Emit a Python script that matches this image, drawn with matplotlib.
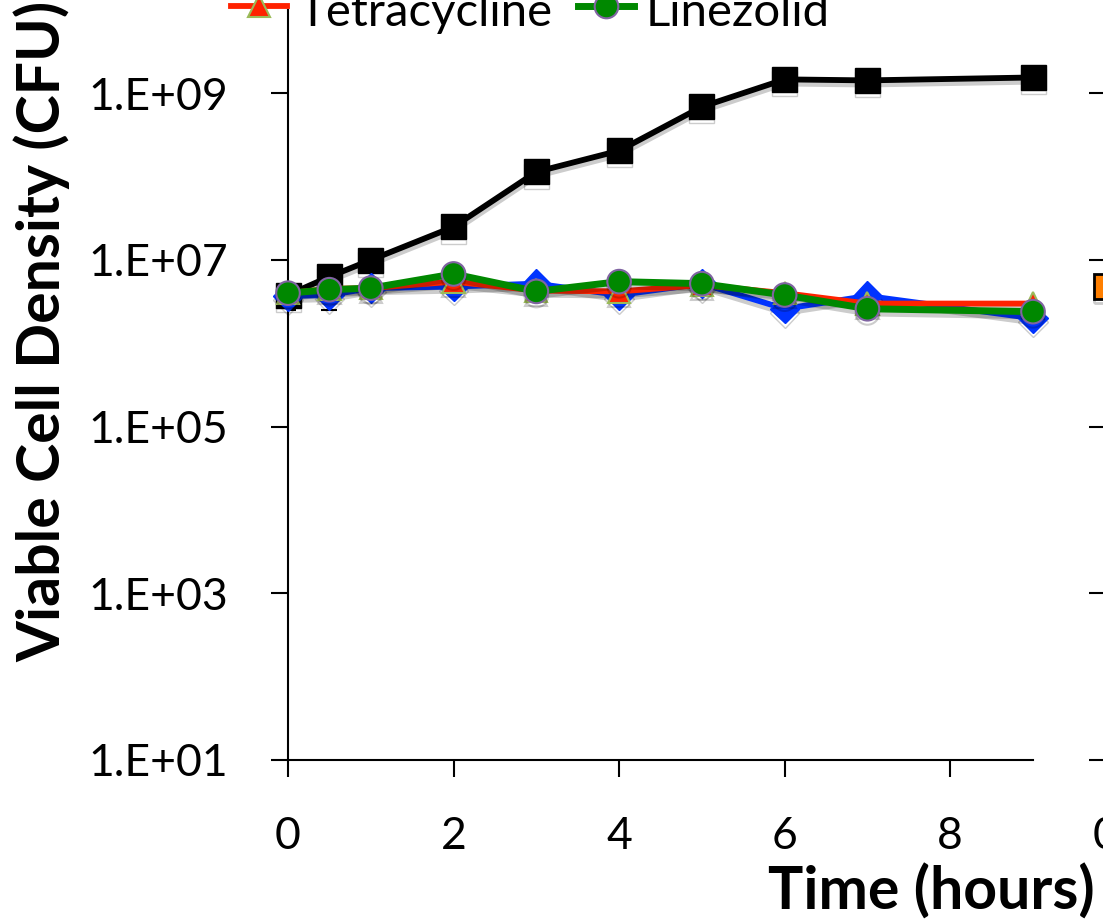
import matplotlib
matplotlib.use("Agg")
import matplotlib.pyplot as plt
import matplotlib.patheffects as pe
from matplotlib.lines import Line2D
from matplotlib.ticker import FixedLocator, NullLocator

plt.rcParams['font.family'] = ['Lato', 'DejaVu Sans']

# ---- data ----
hours = [0, 0.5, 1, 2, 3, 4, 5, 6, 7, 9]
control = [3.8e6, 6.3e6, 1.0e7, 2.5e7, 1.14e8, 2.05e8, 6.9e8, 1.47e9, 1.43e9, 1.55e9]
control_err_low = [1.3e6, 3.8e6, 0, 0, 0, 0, 0, 0, 0, 0]
blue_series = [3.7e6, 3.8e6, 4.6e6, 4.8e6, 5.2e6, 3.8e6, 5.2e6, 2.6e6, 3.7e6, 2.0e6]
tetracycline = [4.0e6, 4.5e6, 4.6e6, 5.5e6, 4.3e6, 4.2e6, 5.0e6, 4.0e6, 3.0e6, 3.0e6]
linezolid = [4.0e6, 4.4e6, 4.6e6, 6.8e6, 4.2e6, 5.5e6, 5.2e6, 3.8e6, 2.6e6, 2.4e6]
panel2_hours = [0]
panel2_orange = [4.8e6]

xticks = [0, 2, 4, 6, 8]
yticks = [1e1, 1e3, 1e5, 1e7, 1e9]
ytick_labels = ["1.E+01", "1.E+03", "1.E+05", "1.E+07", "1.E+09"]

W, H = 1103, 923
fig = plt.figure(figsize=(W / 100, H / 100), dpi=100)

def axes_px(left, top, right, bottom):
    return [left / W, 1 - bottom / H, (right - left) / W, (bottom - top) / H]

ax = fig.add_axes(axes_px(288, 10, 1033, 760))

shadow = [pe.SimpleLineShadow(offset=(0, -3), shadow_color='black', alpha=0.2), pe.Normal()]

ax.errorbar(hours, control, yerr=[control_err_low, [0] * len(hours)], fmt='none',
            ecolor='black', elinewidth=1.5, capsize=6, capthick=1.5, zorder=2)
ax.plot(hours, control, color='black', lw=4.2, marker='s', ms=18,
        mfc='black', mec='black', mew=1, zorder=3, path_effects=shadow, clip_on=False)
ax.plot(hours, blue_series, color='#0033ff', lw=4.2, marker='D', ms=15,
        mfc='#0033ff', mec='#0033ff', mew=1, zorder=4, path_effects=shadow, clip_on=False)
ax.plot(hours, tetracycline, color='#ff2200', lw=4.2, marker='^', ms=16,
        mfc='#ff2200', mec='#9bbb59', mew=1.5, zorder=5, path_effects=shadow, clip_on=False)
ax.plot(hours, linezolid, color='#008800', lw=5, marker='o', ms=17,
        mfc='#008800', mec='#8064a2', mew=1.5, zorder=6, path_effects=shadow, clip_on=False)

ax.set_yscale('log')
ax.set_ylim(1e1, 1e10)
ax.set_xlim(0, 9)
ax.yaxis.set_major_locator(FixedLocator(yticks))
ax.yaxis.set_minor_locator(NullLocator())
ax.set_yticklabels(ytick_labels)
ax.set_xticks(xticks)
ax.set_xticklabels([str(t) for t in xticks])
for s in ['top', 'right']:
    ax.spines[s].set_visible(False)
for s in ['left', 'bottom']:
    ax.spines[s].set_linewidth(1.5)
ax.tick_params(axis='both', which='major', direction='out', length=12, width=1.5,
               labelsize=32, color='black')
ax.tick_params(axis='x', pad=28)
ax.tick_params(axis='y', pad=31)

ax.set_ylabel("Viable Cell Density (CFU)", fontsize=42.5, fontweight='bold')
ax.yaxis.label.set_verticalalignment('center')
ax.yaxis.set_label_coords((42 - 288) / 745, (760 - 331) / 750)
ax.set_xlabel("Time (hours)", fontsize=42.5, fontweight='bold')
ax.xaxis.label.set_horizontalalignment('right')
ax.xaxis.label.set_verticalalignment('baseline')
ax.xaxis.set_label_coords((1095 - 288) / 745, (760 - 910) / 750)

# legend (partially cropped at top)
handles = [
    Line2D([], [], color='#ff2200', lw=4.2, marker='^', ms=16, mfc='#ff2200', mec='#9bbb59', mew=1.5),
    Line2D([], [], color='#008800', lw=5, marker='o', ms=17, mfc='#008800', mec='#8064a2', mew=1.5),
]
fig.legend(handles, ["Tetracycline", "Linezolid"], ncol=2, frameon=False, fontsize=34,
           loc='lower left', bbox_to_anchor=(231 / W, 1 - 34 / H),
           borderpad=0, borderaxespad=0, handleheight=1.15,
           handlelength=1.19, handletextpad=0.23, columnspacing=0.55)

# second panel, mostly outside the figure
ax2 = fig.add_axes(axes_px(1106, 10, 1850, 760))
ax2.plot(panel2_hours, panel2_orange, ls='none', marker='s', ms=18, mfc='#ff7f00', mec='black',
         mew=2, clip_on=False, path_effects=shadow)
ax2.set_yscale('log')
ax2.set_ylim(1e1, 1e10)
ax2.set_xlim(0, 9)
ax2.yaxis.set_major_locator(FixedLocator(yticks))
ax2.yaxis.set_minor_locator(NullLocator())
ax2.set_yticklabels([])
ax2.set_xticks(xticks)
ax2.set_xticklabels([str(t) for t in xticks])
for s in ['top', 'right']:
    ax2.spines[s].set_visible(False)
for s in ['left', 'bottom']:
    ax2.spines[s].set_linewidth(1.5)
ax2.tick_params(axis='both', which='major', direction='out', length=12, width=1.5,
                labelsize=32, color='black')
ax2.tick_params(axis='x', pad=28)

fig.savefig("out.png", dpi=100)
